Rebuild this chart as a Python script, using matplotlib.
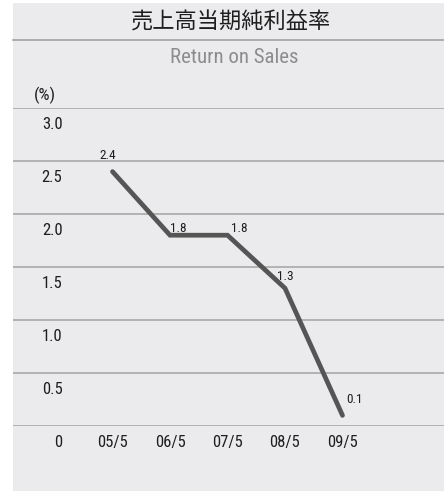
import matplotlib
matplotlib.use("Agg")
import matplotlib.pyplot as plt
from matplotlib.patches import Rectangle
from matplotlib.lines import Line2D

years = ["05/5", "06/5", "07/5", "08/5", "09/5"]
ros = [2.4, 1.8, 1.8, 1.3, 0.1]
y_ticks = [0, 0.5, 1.0, 1.5, 2.0, 2.5, 3.0]
y_labels = ["0", "0.5", "1.0", "1.5", "2.0", "2.5", "3.0"]
title_jp = "売上高当期純利益率"
title_en = "Return on Sales"
unit = "(%)"

W, H = 444, 493
NARROW = ["Roboto Condensed", "DejaVu Sans"]
JP = ["Noto Sans CJK JP", "DejaVu Sans"]
bg = "#ebebed"
grid_c = "#a3a3a3"
ink = "#1e1e1e"

fig = plt.figure(figsize=(W / 100, H / 100), dpi=100)
fig.patch.set_facecolor("white")

def px(x, y):
    # pixel coords (from top-left) -> figure fraction
    return x / W, 1 - y / H

# grey panel
fig.patches.append(Rectangle(px(13, 491), (W - 13) / W, 488 / H,
                             transform=fig.transFigure, facecolor=bg,
                             edgecolor="none", zorder=-5))
# header rule
fig.lines.append(Line2D([13 / W, 1], [1 - 40 / H] * 2, transform=fig.transFigure,
                        color=grid_c, lw=1.2))

fig.text(*px(231, 22.5), title_jp, ha="center", va="center", fontsize=16,
         family=JP, color=ink)
fig.text(*px(234, 62.7), title_en, ha="center", va="baseline", fontsize=15,
         family=NARROW, color="#8c8c8c")
fig.text(*px(34, 95), unit, ha="left", va="center", fontsize=12.5,
         family=NARROW, color=ink)

# plot area: y=0 at 426px, y=3 at 108px
ax = fig.add_axes([13 / W, 1 - 426 / H, (W - 13) / W, (426 - 108) / H])
ax.patch.set_alpha(0)
step = 57.5
ax.set_xlim(-(112.5 - 13) / step, 4 + (444 - 342.5) / step)
ax.set_ylim(0, 3.0)
for s in ax.spines.values():
    s.set_visible(False)
ax.set_xticks([])
ax.set_yticks([])
for v in y_ticks:
    ax.axhline(v, color=grid_c, lw=1.1, zorder=1)

x = list(range(len(years)))
ax.plot(x, ros, color="#555555", lw=3.4, solid_capstyle="round",
        solid_joinstyle="miter", zorder=3, clip_on=False)

# y labels sit just below each gridline
for v, lab in zip(y_ticks, y_labels):
    ax.annotate(lab, (0, v), xycoords=("axes fraction", "data"),
                xytext=(62.5 - 13, -21), textcoords="offset pixels",
                ha="right", va="baseline", fontsize=12, family=NARROW,
                color=ink)
# x labels
for i, lab in enumerate(years):
    ax.annotate(lab, (i, 0), xytext=(0, -21), textcoords="offset pixels",
                ha="center", va="baseline", fontsize=12, family=NARROW,
                color=ink, annotation_clip=False)

# value labels
offsets = [(-5, 12.5, "center"), (0, 3, "left"), (3, 3, "left"),
           (-7.5, 8, "left"), (4, 12.7, "left")]
for i, (v, (dx, dy, ha)) in enumerate(zip(ros, offsets)):
    ax.annotate(f"{v:.1f}", (i, v), xytext=(dx, dy), textcoords="offset pixels",
                ha=ha, va="baseline", fontsize=9.5, family=NARROW, color=ink)

fig.savefig("out.png", dpi=100)
